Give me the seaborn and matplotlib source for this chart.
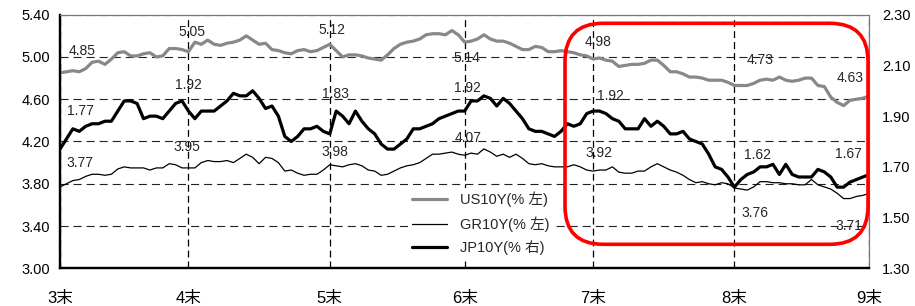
import matplotlib
matplotlib.use("Agg")
import matplotlib.pyplot as plt
import seaborn as sns
import pandas as pd
from matplotlib.patches import FancyBboxPatch
from matplotlib.transforms import IdentityTransform

# ---------------- data ----------------
us10y = [4.85, 4.86, 4.87, 4.86, 4.89, 4.95, 4.96, 4.93, 4.98, 5.04,
         5.05, 5.01, 5.01, 5.03, 5.04, 5.00, 5.01, 5.08, 5.08, 5.07,
         5.05, 5.14, 5.12, 5.16, 5.12, 5.11, 5.13, 5.14, 5.16, 5.20,
         5.16, 5.12, 5.13, 5.07, 5.06, 5.04, 5.03, 5.06, 5.07, 5.05,
         5.06, 5.09, 5.12, 5.06, 5.00, 5.02, 5.02, 5.01, 4.99, 4.98,
         4.97, 5.02, 5.08, 5.12, 5.14, 5.15, 5.17, 5.21, 5.22, 5.22,
         5.21, 5.25, 5.21, 5.14, 5.15, 5.17, 5.21, 5.17, 5.15, 5.15,
         5.13, 5.10, 5.07, 5.07, 5.10, 5.09, 5.05, 5.05, 5.06, 5.05,
         5.04, 5.02, 5.01, 4.98, 4.99, 4.97, 4.96, 4.91, 4.92, 4.93,
         4.93, 4.94, 4.97, 4.97, 4.92, 4.86, 4.86, 4.84, 4.81, 4.81,
         4.80, 4.78, 4.78, 4.78, 4.76, 4.73, 4.73, 4.73, 4.75, 4.78,
         4.79, 4.78, 4.81, 4.78, 4.77, 4.78, 4.80, 4.80, 4.73, 4.72,
         4.62, 4.57, 4.54, 4.59, 4.60, 4.61, 4.63]

jp10y = [1.77, 1.81, 1.85, 1.84, 1.86, 1.87, 1.87, 1.88, 1.88, 1.92,
         1.96, 1.96, 1.95, 1.89, 1.90, 1.90, 1.89, 1.92, 1.95, 1.96,
         1.92, 1.89, 1.92, 1.92, 1.92, 1.94, 1.96, 1.99, 1.98, 1.98,
         2.00, 1.97, 1.93, 1.94, 1.90, 1.82, 1.80, 1.82, 1.85, 1.85,
         1.86, 1.84, 1.83, 1.92, 1.90, 1.87, 1.92, 1.88, 1.85, 1.83,
         1.79, 1.77, 1.77, 1.79, 1.81, 1.85, 1.85, 1.86, 1.87, 1.89,
         1.90, 1.91, 1.92, 1.92, 1.96, 1.96, 1.98, 1.97, 1.94, 1.97,
         1.95, 1.92, 1.89, 1.85, 1.84, 1.84, 1.83, 1.82, 1.84, 1.87,
         1.86, 1.87, 1.91, 1.92, 1.92, 1.91, 1.89, 1.88, 1.85, 1.85,
         1.85, 1.89, 1.86, 1.88, 1.86, 1.83, 1.83, 1.84, 1.81, 1.80,
         1.79, 1.75, 1.70, 1.69, 1.66, 1.62, 1.65, 1.67, 1.68, 1.70,
         1.70, 1.71, 1.67, 1.71, 1.67, 1.66, 1.66, 1.66, 1.69, 1.68,
         1.66, 1.62, 1.62, 1.64, 1.65, 1.66, 1.67]

gr10y = [3.77, 3.80, 3.83, 3.84, 3.87, 3.89, 3.89, 3.88, 3.89, 3.94,
         3.96, 3.95, 3.95, 3.95, 3.93, 3.95, 3.95, 3.99, 3.98, 3.95,
         3.95, 3.95, 4.00, 4.02, 4.01, 4.01, 4.02, 4.00, 4.04, 4.08,
         4.05, 3.99, 4.05, 4.04, 4.00, 3.92, 3.93, 3.90, 3.88, 3.89,
         3.89, 3.93, 3.98, 3.97, 3.96, 3.98, 3.99, 3.97, 3.93, 3.92,
         3.88, 3.89, 3.92, 3.95, 3.97, 3.98, 4.00, 4.04, 4.08, 4.08,
         4.09, 4.10, 4.08, 4.07, 4.09, 4.08, 4.13, 4.10, 4.06, 4.08,
         4.05, 4.08, 4.04, 3.99, 3.98, 3.99, 3.97, 3.96, 3.96, 3.96,
         3.98, 3.96, 3.93, 3.92, 3.93, 3.93, 3.96, 3.91, 3.90, 3.90,
         3.92, 3.92, 3.96, 3.99, 3.96, 3.93, 3.91, 3.88, 3.84, 3.81,
         3.82, 3.80, 3.79, 3.81, 3.80, 3.76, 3.75, 3.74, 3.77, 3.82,
         3.82, 3.81, 3.81, 3.80, 3.80, 3.79, 3.79, 3.84, 3.79, 3.77,
         3.75, 3.71, 3.66, 3.66, 3.68, 3.69, 3.71]

month_end_days = [0, 20, 42, 63, 83, 105, 126]
month_labels = ["3末", "4末", "5末", "6末", "7末", "8末", "9末"]
left_ticks = [3.00, 3.40, 3.80, 4.20, 4.60, 5.00, 5.40]
right_ticks = [1.30, 1.50, 1.70, 1.90, 2.10, 2.30]
legend_labels = ["US10Y(% 左)", "GR10Y(% 左)", "JP10Y(% 右)"]

df = pd.DataFrame({"day": list(range(len(us10y))), "US": us10y, "GR": gr10y, "JP": jp10y})

# ---------------- style ----------------
sns.set_style("white")
plt.rcParams["font.family"] = ["Liberation Sans", "Noto Sans CJK JP"]
plt.rcParams["lines.scale_dashes"] = False

fig = plt.figure(figsize=(9.15, 3.06), dpi=100)
ax = fig.add_axes([60 / 915, 1 - 268.3 / 306, (869.3 - 60) / 915, (268.3 - 14.7) / 306])
ax2 = ax.twinx()

GRAY = "#888888"
sns.lineplot(data=df, x="day", y="US", ax=ax, color=GRAY, lw=2.3, label=legend_labels[0], zorder=3)
sns.lineplot(data=df, x="day", y="GR", ax=ax, color="black", lw=0.9, label=legend_labels[1], zorder=3)
sns.lineplot(data=df, x="day", y="JP", ax=ax2, color="black", lw=2.3, label=legend_labels[2], zorder=3)

ax.set_xlim(month_end_days[0], month_end_days[-1])
ax.set_ylim(left_ticks[0], left_ticks[-1])
ax2.set_ylim(right_ticks[0], right_ticks[-1])
ax.set_yticks(left_ticks)
ax.set_yticklabels([f"{v:.2f}" for v in left_ticks])
ax2.set_yticks(right_ticks)
ax2.set_yticklabels([f"{v:.2f}" for v in right_ticks])
ax.set_xticks(month_end_days)
ax.set_xticklabels(month_labels)
for a in (ax, ax2):
    a.set_xlabel("")
    a.set_ylabel("")
    leg = a.get_legend()
    if leg:
        leg.remove()

ax.tick_params(axis="y", length=0, pad=7, labelsize=10.5, colors="black")
ax2.tick_params(axis="y", length=0, pad=9, labelsize=10.5, colors="black")
ax.tick_params(axis="x", length=0, pad=16, labelsize=12, colors="black")

ax.yaxis.grid(True, linestyle=(0, (5.8, 3.6)), color="#222222", lw=0.8)
ax.xaxis.grid(True, linestyle=(0, (5.0, 2.9)), color="black", lw=0.9)
ax.set_axisbelow(True)

for a in (ax, ax2):
    a.spines["left"].set_color("black")
    a.spines["left"].set_linewidth(1.6)
    a.spines["bottom"].set_color("black")
    a.spines["bottom"].set_linewidth(1.6)
    a.spines["top"].set_color("#777777")
    a.spines["top"].set_linewidth(0.8)
    a.spines["right"].set_color("#777777")
    a.spines["right"].set_linewidth(0.8)
ax2.patch.set_visible(False)

# ---------------- value labels ----------------
us_off = [(15.6, 15.5), (2.4, 14.4), (1.9, 10.4), (1.6, -11.3), (3.7, 12.6), (18.7, 18.7), (-13.7, 13)]
jp_off = [(14.4, 27.6), (0, 18.8), (3.9, 29), (2.3, 16.8), (12.3, 10.9), (16.8, 23.5), (-14.8, 14.4)]
gr_off = [(14.4, 17), (-1.2, 14.9), (3.9, 8.9), (2.7, 12.2), (4.4, 13), (15, -17.8), (-14.8, -23.5)]

for d, o in zip(month_end_days, us_off):
    ax.annotate(f"{us10y[d]:.2f}", (d, us10y[d]), xytext=o, textcoords="offset points",
                ha="center", va="center", fontsize=10, zorder=5)
for d, o in zip(month_end_days, gr_off):
    ax.annotate(f"{gr10y[d]:.2f}", (d, gr10y[d]), xytext=o, textcoords="offset points",
                ha="center", va="center", fontsize=10, zorder=5)
for d, o in zip(month_end_days, jp_off):
    ax2.annotate(f"{jp10y[d]:.2f}", (d, jp10y[d]), xytext=o, textcoords="offset points",
                 ha="center", va="center", fontsize=10, zorder=5)

# ---------------- legend ----------------
h1, l1 = ax.get_legend_handles_labels()
h2, l2 = ax2.get_legend_handles_labels()
leg = ax2.legend(h1 + h2, l1 + l2, loc="upper left", bbox_to_anchor=(408 / 915, 1 - 188 / 306),
                 bbox_transform=fig.transFigure, frameon=True, fancybox=False,
                 facecolor="white", edgecolor="none", framealpha=1, fontsize=10.5,
                 handlelength=2.4, handletextpad=0.9, labelspacing=0.6, borderpad=0.25,
                 borderaxespad=0)

# ---------------- highlight box ----------------
box = FancyBboxPatch((565, 306 - 244.3), 303, 221,
                     boxstyle="round,pad=0,rounding_size=38",
                     transform=IdentityTransform(), fill=False,
                     ec="#ff0000", lw=2.6, zorder=20)
fig.add_artist(box)

fig.savefig("out.png", dpi=100)
